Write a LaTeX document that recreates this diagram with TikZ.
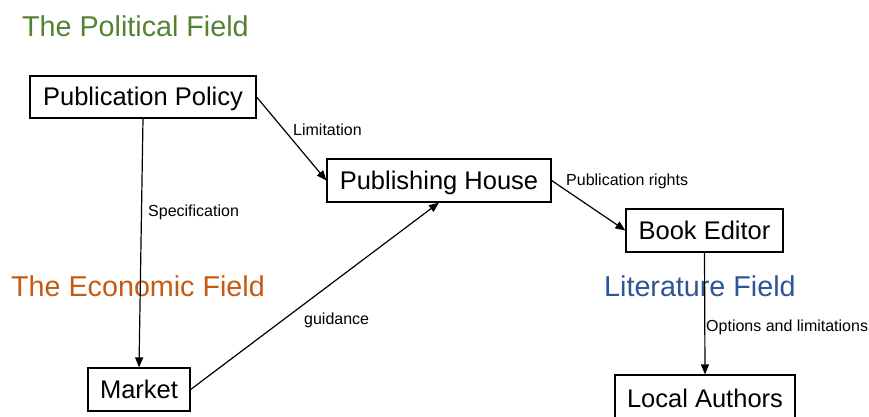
\documentclass[tikz,border=0pt]{standalone}
\usepackage{fontspec}
\setmainfont{Liberation Sans}
\usetikzlibrary{arrows.meta}
\definecolor{polgreen}{HTML}{548235}
\definecolor{ecoorange}{HTML}{C55A11}
\definecolor{litblue}{HTML}{2F5597}
\tikzset{
  box/.style={draw=black, line width=1.2pt, fill=white, inner sep=0pt, text height=17pt, text depth=0pt, font=\fontsize{25.5}{30}\selectfont},
  field/.style={inner sep=0pt, anchor=west, font=\fontsize{28.7}{33}\selectfont},
  lab/.style={inner sep=0pt, anchor=west, font=\fontsize{16}{19}\selectfont},
  conn/.style={line width=1.2pt, -{Triangle[length=10pt,width=8pt]}},
  plain/.style={line width=1.2pt}
}
\begin{document}
\begin{tikzpicture}[x=1pt,y=-1pt]
\useasboundingbox (0,0) rectangle (869,416);
% fields
\node[field, text=polgreen] (fpol) at (22,26) {The Political Field};
\node[field, text=ecoorange] (feco) at (11,286) {The Economic Field};
\node[field, text=litblue] (flit) at (604,286) {Literature Field};
% boxes
\node[box, minimum width=226pt, minimum height=42pt] (pp) at (143,97) {Publication Policy};
\node[box, minimum width=224pt, minimum height=43pt] (ph) at (439,180.5) {Publishing House};
\node[box, minimum width=157pt, minimum height=43pt] (be) at (704.5,230.5) {Book Editor};
\node[box, minimum width=102pt, minimum height=43pt] (mk) at (139,389.5) {Market};
\node[box, minimum width=180pt, minimum height=48pt] (la) at (705,399) {Local Authors};
% connectors
\draw[conn] (pp.east) -- (ph.west);
\draw[conn] (pp.south) -- (mk.north);
\draw[conn] (mk.east) -- (ph.south);
\draw[conn] (ph.east) -- (be.west);
\draw[conn] (be.south) -- (la.north);
% labels
\node[lab] (l1) at (293,130) {Limitation};
\node[lab] (l2) at (148,212) {Specification};
\node[lab] (l3) at (304,320) {guidance};
\node[lab] (l4) at (566,181) {Publication rights};
\node[lab] (l5) at (706,327) {Options and limitations};
\end{tikzpicture}
\end{document}
